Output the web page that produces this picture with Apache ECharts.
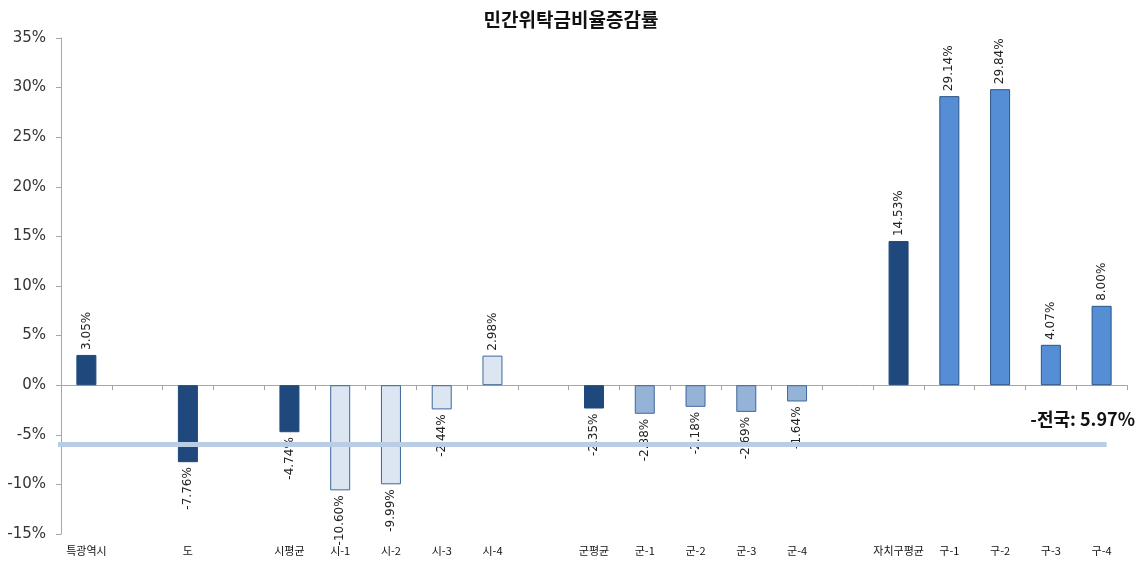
<!DOCTYPE html>
<html><head><meta charset="utf-8">
<script src="https://cdn.jsdelivr.net/npm/echarts@6/dist/echarts.min.js"></script>
<style>html,body{margin:0;padding:0;background:#fff}#c{width:1142px;height:564px}</style>
</head><body><div id="c"></div>
<script>
const title = '민간위탁금비율증감률';
const categories = ['특광역시','','도','','시평균','시-1','시-2','시-3','시-4','','군평균','군-1','군-2','군-3','군-4','','자치구평균','구-1','구-2','구-3','구-4'];
const values = [3.05,null,-7.76,null,-4.74,-10.60,-9.99,-2.44,2.98,null,-2.35,-2.88,-2.18,-2.69,-1.64,null,14.53,29.14,29.84,4.07,8.00];
const groups = ['avg',null,'avg',null,'avg','si','si','si','si',null,'avg','gun','gun','gun','gun',null,'avg','gu','gu','gu','gu'];
const yTicks = [-15,-10,-5,0,5,10,15,20,25,30,35];
const nationalValue = 5.97;
const nationalLine = -5.97;
const nationalLabel = '-전국: 5.97%';
const lineSpan = [-0.08, 20.6];

const styles = {
  avg: {color:'#1F497D', borderColor:'#1F497D'},
  si:  {color:'#DCE6F2', borderColor:'#3E679C'},
  gun: {color:'#95B3D7', borderColor:'#3E679C'},
  gu:  {color:'#558ED5', borderColor:'#2A5486'}
};
const lblFont = {fontFamily:'DejaVu Sans', fontSize:12, color:'#222'};
const barData = values.map((v,i)=>{
  if (v === null) return '-';
  const pos = v >= 0;
  return {
    value: v,
    itemStyle: Object.assign({borderWidth:1}, styles[groups[i]]),
    label: Object.assign({
      show:true, rotate:90,
      position: pos ? 'top' : 'bottom',
      align: pos ? 'left' : 'right',
      verticalAlign:'middle',
      distance:5,
      formatter: p => p.value.toFixed(2) + '%'
    }, lblFont)
  };
});

const chart = echarts.init(document.getElementById('c'));
chart.setOption({
  animation:false,
  title:{text:title, left:'center', top:5, textStyle:{fontFamily:'Noto Sans CJK KR', fontSize:19, fontWeight:'bold', color:'#111'}},
  grid:{left:61, right:15, top:38, bottom:30},
  xAxis:[
    {type:'category', data:categories, position:'bottom', boundaryGap:true,
     axisLine:{show:true, onZero:true, lineStyle:{color:'#A6A6A6', width:1}},
     axisTick:{show:true, interval:0, length:5, lineStyle:{color:'#A6A6A6'}},
     axisLabel:{show:false}},
    {type:'category', data:categories, position:'bottom',
     axisLine:{show:false, onZero:false}, axisTick:{show:false},
     axisLabel:{show:true, interval:0, margin:11, fontFamily:'Noto Sans CJK KR', fontSize:11, color:'#111'}},
    {type:'value', min:0, max:21, show:false}
  ],
  yAxis:{type:'value', min:yTicks[0], max:yTicks[yTicks.length-1], interval:5,
    axisLine:{show:true, lineStyle:{color:'#A6A6A6'}},
    axisTick:{show:true, length:5, lineStyle:{color:'#A6A6A6'}},
    splitLine:{show:false},
    axisLabel:{formatter: v => v + '%', fontFamily:'DejaVu Sans', fontSize:15, color:'#333', margin:15}},
  series:[
    {type:'bar', xAxisIndex:0, yAxisIndex:0, data:barData, barWidth:20, z:3},
    {type:'line', xAxisIndex:2, yAxisIndex:0, data:[[lineSpan[0], nationalLine],[lineSpan[1], nationalLine]],
     symbol:'none', lineStyle:{color:'#B9CDE5', width:5}, z:4, silent:true}
  ],
  graphic:[{type:'text', right:7, top:410, style:{text:nationalLabel, font:'bold 18px "Noto Sans CJK KR"', fill:'#111'}}]
});
</script></body></html>
